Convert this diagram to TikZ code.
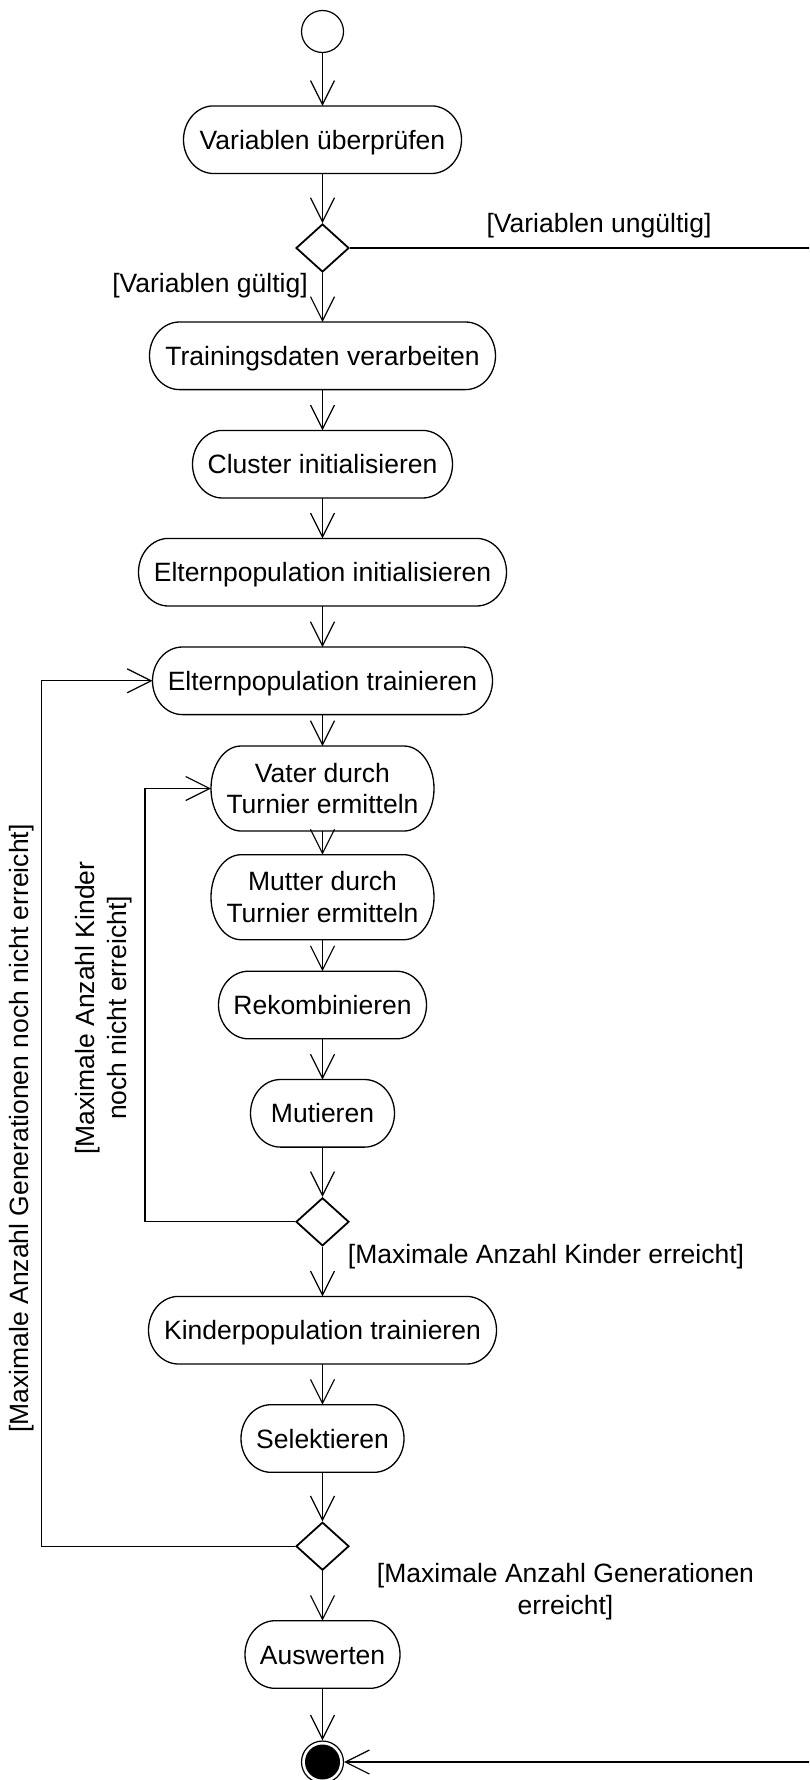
\documentclass[tikz,border=0pt]{standalone}
\usepackage{fontspec}
\setmainfont{Liberation Sans}
\usetikzlibrary{arrows.meta,calc,shapes.geometric}

\tikzset{
  diagram/.style={x=1pt, y=-1pt, font=\fontsize{26.5}{31.8}\selectfont},
  actbase/.style={inner sep=0pt, outer sep=0pt, minimum height=67.6pt},
  act/.style={actbase, text height=19pt, text depth=0pt},
  acttwo/.style={actbase, align=center, minimum height=85pt},
  decision/.style={diamond, draw, line width=1.8pt, minimum width=53pt,
                   minimum height=48pt, inner sep=0pt},
  initial/.style={circle, draw, line width=1.2pt, minimum size=42pt, inner sep=0pt},
  final/.style={circle, draw, line width=1.2pt, minimum size=42pt, inner sep=0pt},
  flow/.style={line width=1.2pt, -{Straight Barb[length=24pt, width=24pt]}},
  outline/.style={line width=1.3pt},
  guard/.style={inner sep=0pt},
}

\begin{document}
\begin{tikzpicture}[diagram]
  \useasboundingbox (0,0) rectangle (809,1780);
  \fill[white] (0,0) rectangle (809,1780);
  \clip (0,0) rectangle (809,1780);

  % start and end
  \node[initial] (start) at (322.5,31.5) {};
  \node[final] (stop) at (322.5,1762) {};
  \fill (stop.center) circle[radius=17.5pt];

  % actions
  \node[act, minimum width=278pt]   (a1)  at (322.5,139.7)  {Variablen überprüfen};
  \node[act, minimum width=346pt]   (a2)  at (322.5,355.8)  {Trainingsdaten verarbeiten};
  \node[act, minimum width=260pt]   (a3)  at (322.5,464.2)  {Cluster initialisieren};
  \node[act, minimum width=368pt]   (a4)  at (322.5,572.2)  {Elternpopulation initialisieren};
  \node[act, minimum width=340pt]   (a5)  at (322.5,680.8)  {Elternpopulation trainieren};
  \node[acttwo, minimum width=223pt] (a6) at (322.5,788.5)  {Vater durch\\Turnier ermitteln};
  \node[acttwo, minimum width=223pt] (a7) at (322.5,897.2)  {Mutter durch\\Turnier ermitteln};
  \node[act, minimum width=208pt]   (a8)  at (322.5,1005)   {Rekombinieren};
  \node[act, minimum width=144pt]   (a9)  at (322.5,1113.3) {Mutieren};
  \node[act, minimum width=348pt]   (a10) at (322.5,1330.2) {Kinderpopulation trainieren};
  \node[act, minimum width=163pt]   (a11) at (322.5,1438.5) {Selektieren};
  \node[act, minimum width=155pt]   (a12) at (322.5,1654.5) {Auswerten};

  % rounded outlines with elliptical ends
  \foreach \nd in {a1,a2,a3,a4,a5,a6,a7,a8,a9,a10,a11,a12}{
    \draw[outline] let \p1=(\nd.north west), \p2=(\nd.south east),
                       \n1={(\y1-\y2)/2} in
      (\x1+30pt,\y1) -- (\x2-30pt,\y1)
      arc[start angle=90, end angle=-90, x radius=30pt, y radius=\n1]
      -- (\x1+30pt,\y2)
      arc[start angle=270, end angle=90, x radius=30pt, y radius=\n1]
      -- cycle;
  }

  % decisions
  \node[decision] (d1) at (322.5,248)    {};
  \node[decision] (d2) at (322.5,1221.8) {};
  \node[decision] (d3) at (322.5,1546.2) {};

  % loop corners
  \coordinate (outerx) at (41.7,0);
  \coordinate (innerx) at (145,0);
  \coordinate (rightx) at (840,0);

  % main flow
  \draw[flow] (start.south) -- (a1.north);
  \draw[flow] (a1.south) -- (d1.north);
  \draw[flow] (d1.south) -- (a2.north);
  \draw[flow] (a2.south) -- (a3.north);
  \draw[flow] (a3.south) -- (a4.north);
  \draw[flow] (a4.south) -- (a5.north);
  \draw[flow] (a5.south) -- (a6.north);
  \draw[flow] (a6.south) -- (a7.north);
  \draw[flow] (a7.south) -- (a8.north);
  \draw[flow] (a8.south) -- (a9.north);
  \draw[flow] (a9.south) -- (d2.north);
  \draw[flow] (d2.south) -- (a10.north);
  \draw[flow] (a10.south) -- (a11.north);
  \draw[flow] (a11.south) -- (d3.north);
  \draw[flow] (d3.south) -- (a12.north);
  \draw[flow] (a12.south) -- (stop.north);

  % loops and the early exit
  \draw[flow] (d2.west) -| (innerx |- a6.west) -- (a6.west);
  \draw[flow] (d3.west) -| (outerx |- a5.west) -- (a5.west);
  \draw[flow] (d1.east) -- (rightx |- d1.east) -- (rightx |- stop.east) -- (stop.east);

  % guards
  \node[guard] (g1) at (599,226)  {[Variablen ungültig]};
  \node[guard] (g2) at (210,286)  {[Variablen gültig]};
  \node[guard] (g3) at (546,1257) {[Maximale Anzahl Kinder erreicht]};
  \node[guard, align=center] (g4) at (565.5,1592)
        {[Maximale Anzahl Generationen\\erreicht]};
  \node[guard, rotate=90] (g5) at (21.7,1128.5)
        {[Maximale Anzahl Generationen noch nicht erreicht]};
  \node[guard, rotate=90, align=center] (g6) at (104,1008)
        {[Maximale Anzahl Kinder\\noch nicht erreicht]};
\end{tikzpicture}
\end{document}
